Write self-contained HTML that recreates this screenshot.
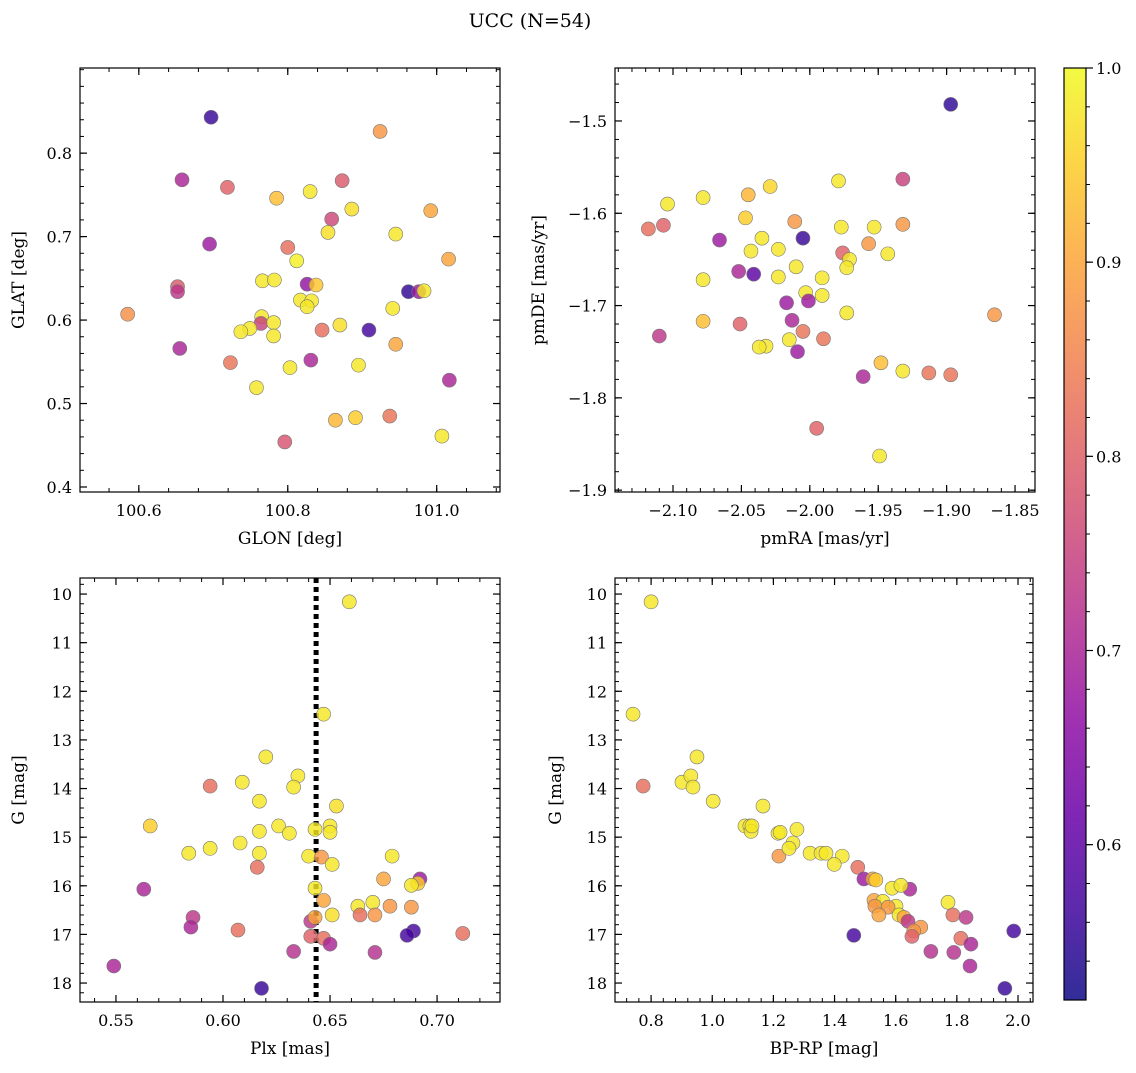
<!DOCTYPE html>
<html><head><meta charset="utf-8"><style>
body{margin:0;background:#fff}
svg{font-family:"DejaVu Serif","Liberation Serif",serif}
</style></head><body>
<svg id="c" width="1136" height="1068" xmlns="http://www.w3.org/2000/svg">
<text x="530" y="27" font-size="19" text-anchor="middle">UCC (N=54)</text>
</svg>
<script>
// Panel 1: GLON / GLAT / prob
const glon=[100.697,100.658,100.719,100.785,100.830,100.873,100.924,100.886,100.859,100.854,100.992,100.945,100.695,100.800,101.016,100.812,100.652,100.652,100.766,100.782,100.826,100.838,100.962,100.976,100.983,100.817,100.832,100.826,100.941,100.585,100.765,100.764,100.781,100.749,100.737,100.781,100.846,100.870,100.909,100.945,100.655,100.723,100.831,100.803,100.895,100.758,101.017,100.796,100.864,100.891,100.937,101.007];
const glat=[0.843,0.768,0.759,0.746,0.754,0.767,0.826,0.733,0.721,0.705,0.731,0.703,0.691,0.687,0.673,0.671,0.640,0.634,0.647,0.648,0.643,0.642,0.634,0.634,0.635,0.624,0.623,0.616,0.614,0.607,0.604,0.596,0.597,0.590,0.586,0.581,0.588,0.594,0.588,0.571,0.566,0.549,0.552,0.543,0.546,0.519,0.528,0.454,0.480,0.483,0.485,0.461];
const prob1=[0.56,0.70,0.80,0.93,0.98,0.79,0.88,0.97,0.76,0.97,0.90,0.98,0.68,0.82,0.90,0.99,0.79,0.73,0.98,0.98,0.67,0.94,0.55,0.68,0.98,0.98,0.98,0.98,0.98,0.87,0.98,0.75,0.98,0.98,0.98,0.98,0.82,0.97,0.57,0.90,0.70,0.83,0.70,0.98,0.98,0.98,0.70,0.78,0.92,0.95,0.83,0.98];
// Panel 2: pmRA / pmDE / prob
const pmra=[-1.897,-1.932,-1.979,-2.029,-2.045,-2.104,-2.118,-2.107,-2.047,-2.078,-2.011,-1.977,-1.953,-1.932,-2.066,-2.035,-2.005,-1.957,-1.976,-1.943,-2.023,-2.043,-2.041,-2.052,-2.010,-2.023,-1.971,-1.973,-1.991,-2.078,-2.003,-1.991,-2.001,-2.017,-1.973,-2.078,-2.013,-2.051,-1.865,-2.005,-2.110,-2.015,-1.990,-2.032,-2.037,-2.009,-1.948,-1.932,-1.913,-1.897,-1.961,-1.995,-1.949];
const pmde=[-1.482,-1.563,-1.565,-1.571,-1.580,-1.590,-1.617,-1.613,-1.605,-1.583,-1.609,-1.615,-1.615,-1.612,-1.629,-1.627,-1.627,-1.633,-1.643,-1.644,-1.639,-1.641,-1.666,-1.663,-1.658,-1.669,-1.650,-1.659,-1.670,-1.672,-1.686,-1.689,-1.695,-1.697,-1.708,-1.717,-1.716,-1.720,-1.710,-1.728,-1.733,-1.737,-1.736,-1.744,-1.745,-1.750,-1.762,-1.771,-1.773,-1.775,-1.777,-1.833,-1.863];
const prob2=[0.55,0.75,0.98,0.96,0.92,0.98,0.82,0.80,0.95,0.98,0.88,0.98,0.98,0.88,0.68,0.98,0.56,0.88,0.80,0.98,0.98,0.98,0.60,0.70,0.98,0.98,0.98,0.98,0.98,0.98,0.98,0.98,0.68,0.68,0.98,0.93,0.70,0.80,0.88,0.83,0.73,0.98,0.83,0.98,0.98,0.68,0.93,0.98,0.83,0.83,0.70,0.80,0.98];
// Panel 3: Plx / G / prob
const plx=[0.659,0.647,0.620,0.635,0.609,0.594,0.633,0.617,0.653,0.566,0.626,0.650,0.643,0.617,0.631,0.650,0.584,0.594,0.608,0.617,0.640,0.646,0.651,0.679,0.616,0.675,0.692,0.691,0.688,0.563,0.643,0.647,0.663,0.670,0.678,0.688,0.586,0.651,0.664,0.671,0.641,0.643,0.585,0.607,0.689,0.686,0.712,0.641,0.647,0.650,0.633,0.671,0.549,0.618];
const gmag3=[10.16,12.47,13.35,13.74,13.87,13.95,13.97,14.26,14.36,14.77,14.77,14.77,14.84,14.88,14.92,14.90,15.33,15.23,15.12,15.33,15.39,15.41,15.56,15.39,15.62,15.86,15.86,15.95,15.99,16.07,16.05,16.30,16.42,16.34,16.42,16.44,16.65,16.60,16.60,16.60,16.73,16.65,16.85,16.91,16.93,17.02,16.98,17.04,17.08,17.20,17.35,17.37,17.65,18.11];
const prob3=[0.98,0.98,0.98,0.98,0.98,0.82,0.98,0.98,0.97,0.95,0.98,0.98,0.98,0.98,0.98,0.98,0.98,0.98,0.98,0.98,0.98,0.88,0.98,0.98,0.82,0.90,0.68,0.95,0.98,0.70,0.98,0.90,0.98,0.98,0.88,0.88,0.73,0.97,0.82,0.88,0.73,0.90,0.70,0.82,0.57,0.57,0.82,0.80,0.82,0.70,0.72,0.72,0.70,0.56];
// Panel 4: BP-RP / G / prob
const bprp=[0.80,0.741,0.774,0.950,0.901,0.930,0.937,1.003,1.166,1.107,1.123,1.127,1.277,1.215,1.222,1.130,1.218,1.264,1.251,1.320,1.356,1.372,1.425,1.399,1.476,1.496,1.525,1.535,1.588,1.646,1.617,1.529,1.558,1.601,1.771,1.532,1.575,1.545,1.611,1.627,1.787,1.830,1.640,1.682,1.659,1.653,1.463,1.813,1.846,1.715,1.790,1.986,1.843,1.957];
const gmag4=[10.16,12.47,13.95,13.35,13.87,13.74,13.97,14.26,14.36,14.77,14.77,14.88,14.84,14.92,14.90,14.77,15.39,15.12,15.23,15.33,15.33,15.33,15.39,15.56,15.62,15.86,15.86,15.88,16.05,16.07,15.99,16.30,16.32,16.42,16.34,16.42,16.44,16.60,16.60,16.65,16.60,16.65,16.73,16.85,16.93,17.04,17.02,17.08,17.20,17.35,17.37,16.93,17.65,18.11];
const prob4=[0.98,0.98,0.82,0.98,0.98,0.98,0.98,0.98,0.98,0.98,0.98,0.98,0.98,0.98,0.98,0.98,0.88,0.98,0.98,0.98,0.98,0.98,0.98,0.98,0.82,0.68,0.90,0.95,0.98,0.70,0.98,0.90,0.98,0.98,0.98,0.88,0.88,0.90,0.98,0.90,0.82,0.73,0.73,0.88,0.88,0.80,0.57,0.82,0.70,0.72,0.72,0.57,0.70,0.56];
const plxLine=0.6435;
const cbTicks=[0.6,0.7,0.8,0.9,1.0];

const NS="http://www.w3.org/2000/svg";
const svg=document.getElementById('c');
function mk(t,a,parent){const e=document.createElementNS(NS,t);for(const k in a)e.setAttribute(k,a[k]);(parent||svg).appendChild(e);return e;}
const stops=['#0d0887','#41049d','#6a00a8','#8f0da4','#b12a90','#cc4778','#e16462','#f2844b','#fca636','#fcce25','#f0f921'];
function hx(h){return [1,3,5].map(i=>parseInt(h.substr(i,2),16));}
function plasma(t){t=Math.max(0,Math.min(1,t))*10;const i=Math.min(9,Math.floor(t)),f=t-i;const a=hx(stops[i]),b=hx(stops[i+1]);return 'rgb('+a.map((v,k)=>Math.round(v+(b[k]-v)*f)).join(',')+')';}
const CMIN=0.52,CMAX=1.0;
function col(p){return plasma((p-CMIN)/(CMAX-CMIN));}
function fmt(v,d){return (v<0?'−':'')+Math.abs(v).toFixed(d);}

function panel(o){
  const g=mk('g',{});
  
  
  const X=v=>o.x0+(v-o.xmin)/(o.xmax-o.xmin)*(o.x1-o.x0);
  const Y=o.inv?(v=>o.y0+(v-o.ymin)/(o.ymax-o.ymin)*(o.y1-o.y0)):(v=>o.y1-(v-o.ymin)/(o.ymax-o.ymin)*(o.y1-o.y0));
  const ax=mk('g',{},g);
  
  
  for(let v=Math.ceil(o.xmin/o.xmn-1e-6)*o.xmn;v<=o.xmax;v+=o.xmn){const x=X(v);mk('line',{x1:x,x2:x,y1:o.y1,y2:o.y1-4,stroke:'#000','stroke-width':1},ax);mk('line',{x1:x,x2:x,y1:o.y0,y2:o.y0+4,stroke:'#000','stroke-width':1},ax);}
  for(let v=Math.ceil(o.ymin/o.ymn-1e-6)*o.ymn;v<=o.ymax;v+=o.ymn){const y=Y(v);mk('line',{x1:o.x0,x2:o.x0+4,y1:y,y2:y,stroke:'#000','stroke-width':1},ax);mk('line',{x1:o.x1,x2:o.x1-4,y1:y,y2:y,stroke:'#000','stroke-width':1},ax);}
  o.xt.forEach(v=>{const x=X(v);mk('line',{x1:x,x2:x,y1:o.y1,y2:o.y1-7,stroke:'#000','stroke-width':1.2},ax);mk('line',{x1:x,x2:x,y1:o.y0,y2:o.y0+7,stroke:'#000','stroke-width':1.2},ax);
    const t=mk('text',{x:x,y:o.y1+24,'font-size':16,'text-anchor':'middle'},ax);t.textContent=fmt(v,o.xd);
    
    });
  o.yt.forEach(v=>{const y=Y(v);mk('line',{x1:o.x0,x2:o.x0+7,y1:y,y2:y,stroke:'#000','stroke-width':1.2},ax);mk('line',{x1:o.x1,x2:o.x1-7,y1:y,y2:y,stroke:'#000','stroke-width':1.2},ax);
    const t=mk('text',{x:o.x0-8,y:y+6,'font-size':16,'text-anchor':'end'},ax);t.textContent=fmt(v,o.yd);
    
    });
  if(o.vline!==undefined){const l=mk('line',{x1:X(o.vline),x2:X(o.vline),y1:o.y0,y2:o.y1,stroke:'#000','stroke-width':5,'stroke-dasharray':'5,4'},g);
    
    }
  o.xs.forEach((xv,i)=>{const c=mk('circle',{cx:X(xv),cy:Y(o.ys[i]),r:7,fill:col(o.ps[i]),'fill-opacity':0.82,stroke:'#777','stroke-width':0.6},g);
    
    });
  mk('rect',{x:o.x0,y:o.y0,width:o.x1-o.x0,height:o.y1-o.y0,fill:'none',stroke:'#000','stroke-width':1.2},g);
  const xl=mk('text',{x:(o.x0+o.x1)/2,y:o.y1+52,'font-size':17,'text-anchor':'middle'},g);xl.textContent=o.xl;
  
  
  const yc=(o.y0+o.y1)/2;
  const yl=mk('text',{x:o.ylx,y:yc,'font-size':17,'text-anchor':'middle',transform:`rotate(-90 ${o.ylx} ${yc})`},g);yl.textContent=o.yl;
  
  
}
panel({name:'glon-glat-panel',x0:80,x1:500,y0:68,y1:492,xmin:100.521,xmax:101.085,ymin:0.394,ymax:0.902,xt:[100.6,100.8,101.0],yt:[0.4,0.5,0.6,0.7,0.8],xd:1,yd:1,xmn:0.04,ymn:0.02,xs:glon,ys:glat,ps:prob1,xl:'GLON [deg]',yl:'GLAT [deg]',ylx:24});
panel({name:'proper-motion-panel',x0:615,x1:1035,y0:68,y1:492,xmin:-2.1424,xmax:-1.8354,ymin:-1.902,ymax:-1.4426,xt:[-2.10,-2.05,-2.00,-1.95,-1.90,-1.85],yt:[-1.9,-1.8,-1.7,-1.6,-1.5],xd:2,yd:1,xmn:0.01,ymn:0.02,xs:pmra,ys:pmde,ps:prob2,xl:'pmRA [mas/yr]',yl:'pmDE [mas/yr]',ylx:544});
panel({name:'plx-g-panel',x0:80,x1:500,y0:578,y1:1002,xmin:0.5332,xmax:0.7294,ymin:9.67,ymax:18.39,inv:true,xt:[0.55,0.60,0.65,0.70],yt:[10,11,12,13,14,15,16,17,18],xd:2,yd:0,xmn:0.01,ymn:0.2,xs:plx,ys:gmag3,ps:prob3,xl:'Plx [mas]',yl:'G [mag]',ylx:24,vline:plxLine});
panel({name:'cmd-panel',x0:615,x1:1033,y0:578,y1:1002,xmin:0.682,xmax:2.049,ymin:9.67,ymax:18.39,inv:true,xt:[0.8,1.0,1.2,1.4,1.6,1.8,2.0],yt:[10,11,12,13,14,15,16,17,18],xd:1,yd:0,xmn:0.04,ymn:0.2,xs:bprp,ys:gmag4,ps:prob4,xl:'BP-RP [mag]',yl:'G [mag]',ylx:561});

const cb=mk('g',{});


const defs=mk('defs',{},cb);
const lg=mk('linearGradient',{id:'pg',x1:0,y1:1,x2:0,y2:0},defs);
for(let i=0;i<=20;i++)mk('stop',{offset:i/20,'stop-color':plasma(i/20),'stop-opacity':0.85},lg);
const cy0=68,cy1=1000,cx0=1064,cx1=1086;
const CY=v=>cy1-(v-CMIN)/(CMAX-CMIN)*(cy1-cy0);
mk('rect',{x:cx0,y:cy0,width:cx1-cx0,height:cy1-cy0,fill:'url(#pg)',stroke:'#000','stroke-width':1.2},cb);
for(let v=0.54;v<=1.0001;v+=0.02){mk('line',{x1:cx1,x2:cx1+4,y1:CY(v),y2:CY(v),stroke:'#000'},cb);}
cbTicks.forEach(v=>{mk('line',{x1:cx1,x2:cx1+7,y1:CY(v),y2:CY(v),stroke:'#000','stroke-width':1.2},cb);
  const t=mk('text',{x:cx1+10,y:CY(v)+6,'font-size':16},cb);t.textContent=v.toFixed(1);
  
  });
</script>
</body></html>
